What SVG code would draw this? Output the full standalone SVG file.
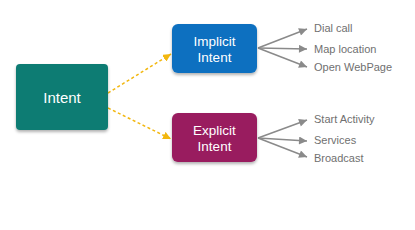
<svg xmlns="http://www.w3.org/2000/svg" width="415" height="230" viewBox="0 0 415 230">
<defs>
<filter id="sh" x="-20%" y="-20%" width="140%" height="150%">
<feDropShadow dx="0" dy="2" stdDeviation="1.5" flood-color="#000" flood-opacity="0.3"/>
</filter>
<marker id="ga" viewBox="0 0 10 10" refX="10" refY="5" markerWidth="10" markerHeight="8" markerUnits="userSpaceOnUse" orient="auto">
<path d="M0,0 L10,5 L0,10 z" fill="#8a8a8a"/>
</marker>
<marker id="ya" viewBox="0 0 10 10" refX="10" refY="5" markerWidth="8" markerHeight="8" markerUnits="userSpaceOnUse" orient="auto">
<path d="M0,0 L10,5 L0,10 z" fill="#f2b70f"/>
</marker>
<style>
.box text{font-family:"Helvetica Neue","Liberation Sans",Arial,sans-serif;fill:#fff;text-anchor:middle}
.lbl{font-family:"Helvetica Neue","Liberation Sans",Arial,sans-serif;font-size:11px;fill:#707070}
.g{stroke:#8a8a8a;stroke-width:1.5;fill:none;marker-end:url(#ga)}
.y{stroke:#f2b70f;stroke-width:1.5;fill:none;stroke-dasharray:3 2.5;marker-end:url(#ya)}
</style>
</defs>
<rect width="415" height="230" fill="#fff"/>
<g id="connectors">
<line class="y" x1="108" y1="93" x2="171" y2="54"/>
<line class="y" x1="108" y1="108" x2="171" y2="139"/>
<line class="g" x1="258" y1="48" x2="307" y2="29"/>
<line class="g" x1="258" y1="48" x2="307" y2="49"/>
<line class="g" x1="258" y1="48" x2="307" y2="67"/>
<line class="g" x1="258" y1="138" x2="307" y2="120"/>
<line class="g" x1="258" y1="138" x2="307" y2="141"/>
<line class="g" x1="258" y1="138" x2="307" y2="157"/>
</g>
<g id="intent" class="box">
<rect x="16" y="64" width="92" height="66" rx="4" fill="#0f7b73" filter="url(#sh)"/>
<text x="62" y="103" font-size="15">Intent</text>
</g>
<g id="implicit" class="box">
<rect x="172" y="24" width="85" height="49" rx="6" fill="#0b6fc0" filter="url(#sh)"/>
<text x="214.5" y="46" font-size="13.5">Implicit</text>
<text x="214.5" y="62" font-size="13.5">Intent</text>
</g>
<g id="explicit" class="box">
<rect x="172" y="113" width="85" height="49" rx="6" fill="#991a5e" filter="url(#sh)"/>
<text x="214.5" y="135" font-size="13.5">Explicit</text>
<text x="214.5" y="151" font-size="13.5">Intent</text>
</g>
<g id="labels">
<text class="lbl" x="314" y="32">Dial call</text>
<text class="lbl" x="314" y="53">Map location</text>
<text class="lbl" x="314" y="71">Open WebPage</text>
<text class="lbl" x="314" y="123">Start Activity</text>
<text class="lbl" x="314" y="144">Services</text>
<text class="lbl" x="314" y="162">Broadcast</text>
</g>
</svg>
